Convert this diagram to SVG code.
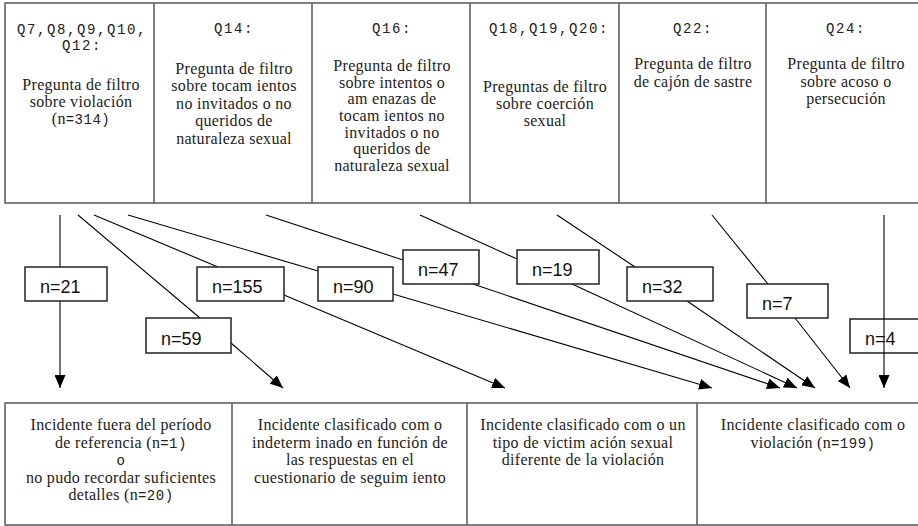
<svg xmlns="http://www.w3.org/2000/svg" width="918" height="526" viewBox="0 0 918 526">
<defs>
<style>
.big{fill:#fff;stroke:#555;stroke-width:1.5}
.div{stroke:#555;stroke-width:1.5}
.hd{font-family:'Liberation Mono','DejaVu Sans Mono',monospace;font-size:14px;letter-spacing:1.6px;fill:#222;text-anchor:middle}
.tx{font-family:'Liberation Serif','DejaVu Serif','Times New Roman',serif;font-size:16px;letter-spacing:0.3px;fill:#222;text-anchor:middle}
.mn{font-family:'Liberation Mono','DejaVu Sans Mono',monospace;font-size:14px;letter-spacing:0.5px}
.lb{fill:#fff;stroke:#222;stroke-width:1.5}
.lt{font-family:'Liberation Sans',Arial,sans-serif;font-size:18px;fill:#111}
.ln{fill:none;stroke:#000;stroke-width:1.1}
</style>
<marker id="ah" viewBox="0 0 13 11" refX="13" refY="5.5" markerWidth="13" markerHeight="11" markerUnits="userSpaceOnUse" orient="auto">
<path d="M0,0 L13,5.5 L0,11 Z" fill="#000"/>
</marker>
</defs>
<rect width="918" height="526" fill="#fff"/>

<g id="top-row">
<rect class="big" x="5" y="3" width="925" height="200"/>
<line class="div" x1="154" y1="3" x2="154" y2="203"/>
<line class="div" x1="312" y1="3" x2="312" y2="203"/>
<line class="div" x1="470" y1="3" x2="470" y2="203"/>
<line class="div" x1="619" y1="3" x2="619" y2="203"/>
<line class="div" x1="766" y1="3" x2="766" y2="203"/>
</g>
<g id="q7">
<text class="hd" x="82" y="34">Q7,Q8,Q9,Q10,</text>
<text class="hd" x="82" y="50">Q12:</text>
<text class="tx" x="81" y="90">Pregunta de filtro</text>
<text class="tx" x="81" y="107">sobre violación</text>
<text class="tx" x="81" y="124">(n<tspan class="mn">=314)</tspan></text>
</g>
<g id="q14">
<text class="hd" x="234" y="33">Q14:</text>
<text class="tx" x="234" y="74">Pregunta de filtro</text>
<text class="tx" x="234" y="91">sobre tocam ientos</text>
<text class="tx" x="234" y="109">no invitados o no</text>
<text class="tx" x="234" y="126">queridos de</text>
<text class="tx" x="234" y="144">naturaleza sexual</text>
</g>
<g id="q16">
<text class="hd" x="392" y="33">Q16:</text>
<text class="tx" x="392" y="71">Pregunta de filtro</text>
<text class="tx" x="392" y="88">sobre intentos o</text>
<text class="tx" x="392" y="104">am enazas de</text>
<text class="tx" x="392" y="121">tocam ientos no</text>
<text class="tx" x="392" y="138">invitados o no</text>
<text class="tx" x="392" y="154">queridos de</text>
<text class="tx" x="392" y="171">naturaleza sexual</text>
</g>
<g id="q18">
<text class="hd" x="549" y="33">Q18,Q19,Q20:</text>
<text class="tx" x="545" y="92">Preguntas de filtro</text>
<text class="tx" x="545" y="109">sobre coerción</text>
<text class="tx" x="545" y="126">sexual</text>
</g>
<g id="q22">
<text class="hd" x="693" y="33">Q22:</text>
<text class="tx" x="693" y="69">Pregunta de filtro</text>
<text class="tx" x="693" y="87">de cajón de sastre</text>
</g>
<g id="q24">
<text class="hd" x="846" y="33">Q24:</text>
<text class="tx" x="846" y="69">Pregunta de filtro</text>
<text class="tx" x="846" y="87">sobre acoso o</text>
<text class="tx" x="846" y="104">persecución</text>
</g>

<g id="bottom-row">
<rect class="big" x="5" y="403" width="925" height="122"/>
<line class="div" x1="232" y1="403" x2="232" y2="525"/>
<line class="div" x1="467" y1="403" x2="467" y2="525"/>
<line class="div" x1="697" y1="403" x2="697" y2="525"/>
</g>
<g id="out-fuera">
<text class="tx" x="121" y="430">Incidente fuera del período</text>
<text class="tx" x="121" y="447.5">de referencia  (n<tspan class="mn">=1)</tspan></text>
<text class="tx" x="121" y="465"><tspan class="mn">o</tspan></text>
<text class="tx" x="121" y="482.5">no pudo recordar suficientes</text>
<text class="tx" x="121" y="500">detalles  (n<tspan class="mn">=20)</tspan></text>
</g>
<g id="out-indeterminado">
<text class="tx" x="350" y="430">Incidente clasificado com o</text>
<text class="tx" x="350" y="447.5">indeterm inado en función de</text>
<text class="tx" x="350" y="465">las respuestas en el</text>
<text class="tx" x="350" y="482.5">cuestionario de seguim iento</text>
</g>
<g id="out-otro">
<text class="tx" x="583" y="430">Incidente clasificado com o un</text>
<text class="tx" x="583" y="447.5">tipo de victim ación sexual</text>
<text class="tx" x="583" y="465">diferente de la violación</text>
</g>
<g id="out-violacion">
<text class="tx" x="813" y="430">Incidente clasificado com o</text>
<text class="tx" x="813" y="447.5">violación  (n<tspan class="mn">=199)</tspan></text>
</g>

<g id="connectors">
<line class="ln" x1="60" y1="215" x2="60" y2="267"/>
<line class="ln" x1="60" y1="301" x2="60" y2="388" marker-end="url(#ah)"/>
<line class="ln" x1="78" y1="215" x2="200" y2="318"/>
<line class="ln" x1="231" y1="343" x2="283" y2="388" marker-end="url(#ah)"/>
<line class="ln" x1="94" y1="215" x2="218" y2="267"/>
<line class="ln" x1="284" y1="295" x2="505" y2="388" marker-end="url(#ah)"/>
<line class="ln" x1="128" y1="215" x2="318" y2="271"/>
<line class="ln" x1="393" y1="294" x2="712" y2="388" marker-end="url(#ah)"/>
<line class="ln" x1="266" y1="215" x2="403" y2="260"/>
<line class="ln" x1="473" y1="284" x2="780" y2="388" marker-end="url(#ah)"/>
<line class="ln" x1="420" y1="215" x2="517" y2="259"/>
<line class="ln" x1="572" y1="284" x2="797" y2="388" marker-end="url(#ah)"/>
<line class="ln" x1="557" y1="215" x2="635" y2="267"/>
<line class="ln" x1="687" y1="301" x2="815" y2="388" marker-end="url(#ah)"/>
<line class="ln" x1="712" y1="215" x2="768" y2="284"/>
<line class="ln" x1="795" y1="318" x2="850" y2="388" marker-end="url(#ah)"/>
</g>

<g id="n21"><rect class="lb" x="25" y="267" width="82" height="34"/><text class="lt" x="40" y="293">n=21</text></g>
<g id="n59"><rect class="lb" x="146" y="318" width="85" height="35"/><text class="lt" x="161" y="345">n=59</text></g>
<g id="n155"><rect class="lb" x="197" y="267" width="87" height="34"/><text class="lt" x="212" y="293">n=155</text></g>
<g id="n90"><rect class="lb" x="318" y="267" width="75" height="34"/><text class="lt" x="333" y="293">n=90</text></g>
<g id="n47"><rect class="lb" x="403" y="250" width="76" height="34"/><text class="lt" x="418" y="276">n=47</text></g>
<g id="n19"><rect class="lb" x="517" y="250" width="82" height="34"/><text class="lt" x="532" y="276">n=19</text></g>
<g id="n32"><rect class="lb" x="627" y="267" width="86" height="34"/><text class="lt" x="642" y="293">n=32</text></g>
<g id="n7"><rect class="lb" x="747" y="284" width="81" height="34"/><text class="lt" x="762" y="310">n=7</text></g>
<g id="n4"><rect class="lb" x="850" y="319" width="80" height="34"/><text class="lt" x="865" y="345">n=4</text></g>

<g id="connector-n4">
<line class="ln" x1="884" y1="215" x2="884" y2="388" marker-end="url(#ah)"/>
</g>
</svg>
